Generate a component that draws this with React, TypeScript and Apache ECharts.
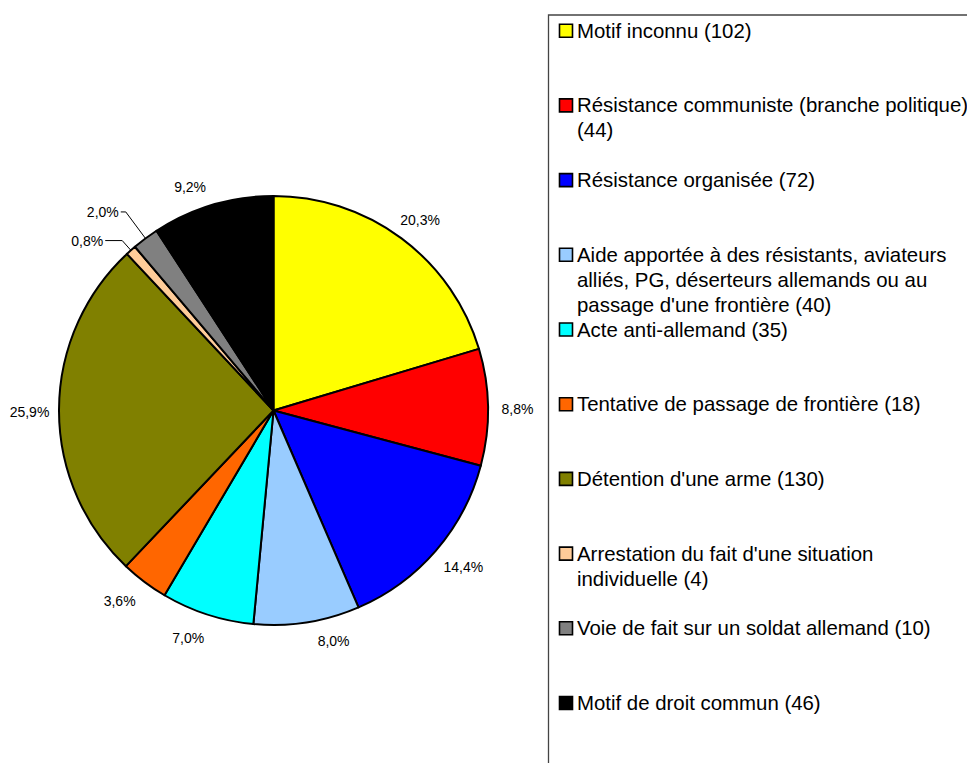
import React, { useEffect, useRef } from 'react';
import * as echarts from 'echarts';

const categories = [
  'Motif inconnu',
  'Résistance communiste (branche politique)',
  'Résistance organisée',
  "Aide apportée à des résistants, aviateurs alliés, PG, déserteurs allemands ou au passage d'une frontière",
  'Acte anti-allemand',
  'Tentative de passage de frontière',
  "Détention d'une arme",
  "Arrestation du fait d'une situation individuelle",
  'Voie de fait sur un soldat allemand',
  'Motif de droit commun',
];
const counts = [102, 44, 72, 40, 35, 18, 130, 4, 10, 46];
const percentLabels = ['20,3%', '8,8%', '14,4%', '8,0%', '7,0%', '3,6%', '25,9%', '0,8%', '2,0%', '9,2%'];
const colors = ['#FFFF00', '#FF0000', '#0000FF', '#99CCFF', '#00FFFF', '#FF6600', '#808000', '#FFCC99', '#808080', '#000000'];
const legendLabels = [
  'Motif inconnu (102)',
  'Résistance communiste (branche politique)\n(44)',
  'Résistance organisée (72)',
  "Aide apportée à des résistants, aviateurs\nalliés, PG, déserteurs allemands ou au\npassage d'une frontière (40)",
  'Acte anti-allemand (35)',
  'Tentative de passage de frontière (18)',
  "Détention d'une arme (130)",
  "Arrestation du fait d'une situation\nindividuelle (4)",
  'Voie de fait sur un soldat allemand (10)',
  'Motif de droit commun (46)',
];

const FONT = '"Liberation Sans", Arial, sans-serif';

// leader-line settings for the small slices (index -> [length, length2])
const leaderLines: Record<number, [number, number]> = { 7: [13, 17], 8: [33, 5] };
// small label nudges imitating the spreadsheet's "best fit" placement
const labelNudges: Record<number, [number, number]> = {
  0: [1, 5],
  1: [0, 2],
  2: [5, -3],
  3: [22, -11],
  4: [-10, -5],
  5: [-7, -4],
  6: [0, 2],
  9: [-14, 10],
};

export default function App() {
  const ref = useRef<HTMLDivElement>(null);
  useEffect(() => {
    if (!ref.current) return;
    const chart = echarts.init(ref.current, undefined, { renderer: 'svg' });
    const center = [273.5, 410.5];
    const R = 214.5;

    const legendTop = 30.7;
    const legendStep = 74.7;
    const graphic: any[] = [
      {
        type: 'rect',
        z: 1,
        shape: { x: 548.5, y: 15, width: 600, height: 800 },
        style: { fill: 'none', stroke: '#444', lineWidth: 1.3 },
      },
    ];
    legendLabels.forEach((txt, i) => {
      const yc = legendTop + i * legendStep;
      graphic.push({
        type: 'rect',
        z: 2,
        shape: { x: 559.5, y: yc - 6.5, width: 13, height: 13 },
        style: { fill: colors[i], stroke: '#000', lineWidth: 1.6 },
      });
      graphic.push({
        type: 'text',
        z: 2,
        x: 577,
        y: yc - 12.5,
        style: {
          text: txt,
          fontSize: 20.4,
          fontFamily: FONT,
          fill: '#000',
          lineHeight: 25,
          verticalAlign: 'top',
          align: 'left',
        },
      });
    });

    chart.setOption({
      animation: false,
      backgroundColor: '#fff',
      graphic,
      series: [
        {
          type: 'pie',
          center,
          radius: R,
          startAngle: 90,
          clockwise: true,
          silent: true,
          avoidLabelOverlap: false,
          itemStyle: { borderColor: '#000', borderWidth: 2 },
          label: { show: false, distanceToLabelLine: 2 },
          labelLine: { show: false },
          data: counts.map((v, i) => {
            const item: any = { name: categories[i], value: v, itemStyle: { color: colors[i] } };
            const ll = leaderLines[i];
            if (ll) {
              item.label = {
                show: true,
                position: 'outside',
                formatter: percentLabels[i],
                fontSize: 14,
                fontFamily: FONT,
                color: '#000',
                distanceToLabelLine: 2,
              };
              item.labelLine = {
                show: true,
                length: ll[0],
                length2: ll[1],
                lineStyle: { color: '#000', width: 1 },
              };
            }
            return item;
          }),
        },
        {
          type: 'pie',
          center,
          radius: [231, 251],
          startAngle: 90,
          clockwise: true,
          silent: true,
          avoidLabelOverlap: false,
          itemStyle: { color: 'transparent', borderWidth: 0 },
          label: {
            show: true,
            position: 'inside',
            rotate: 0,
            fontSize: 14,
            fontFamily: FONT,
            color: '#000',
            formatter: (p: any) => percentLabels[p.dataIndex],
          },
          labelLine: { show: false },
          data: counts.map((v, i) => {
            const item: any = { name: categories[i], value: v };
            if (leaderLines[i]) item.label = { show: false };
            else if (labelNudges[i]) item.label = { offset: labelNudges[i] };
            return item;
          }),
        },
      ],
    });
    return () => chart.dispose();
  }, []);
  return (
    <div
      ref={ref}
      style={{ position: 'fixed', left: 0, top: 0, width: 967, height: 763, background: '#fff' }}
    />
  );
}
